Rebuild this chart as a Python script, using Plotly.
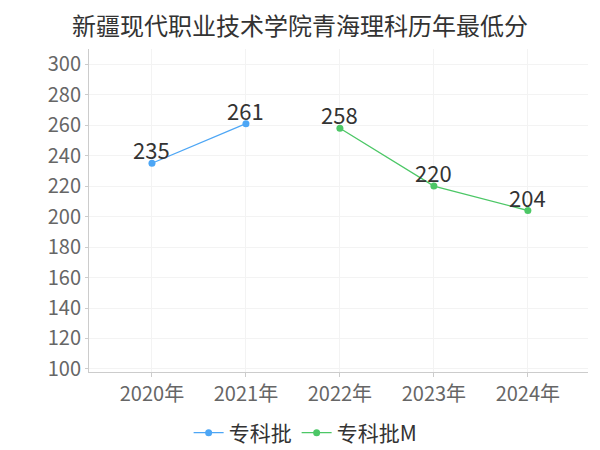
import plotly.graph_objects as go

years = ['2020年', '2021年', '2022年', '2023年', '2024年']
zk_years = ['2020年', '2021年']
zk_scores = [235, 261]
zkm_years = ['2022年', '2023年', '2024年']
zkm_scores = [258, 220, 204]
y_ticks = [100, 120, 140, 160, 180, 200, 220, 240, 260, 280, 300]

font = 'Noto Sans CJK SC'
# the page body keeps its default 8px margin, so the figure is 8px smaller
W, H = 592, 442

fig = go.Figure()
fig.add_trace(go.Scatter(
    name='专科批', x=zk_years, y=zk_scores, mode='lines+markers',
    line=dict(color='#4da6f5', width=1.3), marker=dict(size=7, color='#4da6f5'),
))
fig.add_trace(go.Scatter(
    name='专科批M', x=zkm_years, y=zkm_scores, mode='lines+markers',
    line=dict(color='#4cc766', width=1.3), marker=dict(size=7, color='#4cc766'),
))

# 数据标签
for xs, ys in [(zk_years, zk_scores), (zkm_years, zkm_scores)]:
    for x, y in zip(xs, ys):
        fig.add_annotation(x=x, y=y, text=str(y), showarrow=False, yanchor='middle', yshift=14,
                           font=dict(size=22, color='#333333', family=font))

fig.update_layout(
    width=W, height=H,
    margin=dict(l=81, r=12, t=41, b=78),
    plot_bgcolor='white', paper_bgcolor='white',
    font=dict(family=font, color='#666666'),
    title=dict(text='新疆现代职业技术学院青海理科历年最低分', x=(300 - 8) / W, xanchor='center',
               y=(H - 18.5) / H, yanchor='middle',
               font=dict(size=24, color='#333333', family=font)),
    xaxis=dict(
        type='category', categoryorder='array', categoryarray=years,
        range=[-0.67, 4.64], showgrid=True, gridcolor='#f3f3f3', automargin=False,
        showline=True, linecolor='#cccccc', ticks='outside', ticklen=4, tickcolor='#cccccc',
        tickfont=dict(size=20, color='#666666'),
    ),
    yaxis=dict(
        range=[98, 310], tickvals=y_ticks, showgrid=True, gridcolor='#f3f3f3', automargin=False,
        showline=True, linecolor='#cccccc', ticks='outside', ticklen=3, tickcolor='#cccccc',
        tickfont=dict(size=20, color='#666666'), zeroline=False,
    ),
    legend=dict(orientation='h', x=(300 - 8 - 35) / W, xanchor='center', yref='container',
                y=(H - 425) / H, yanchor='middle',
                font=dict(size=21, color='#333333'), itemwidth=30, tracegroupgap=0),
)

fig.write_html('out.html')
